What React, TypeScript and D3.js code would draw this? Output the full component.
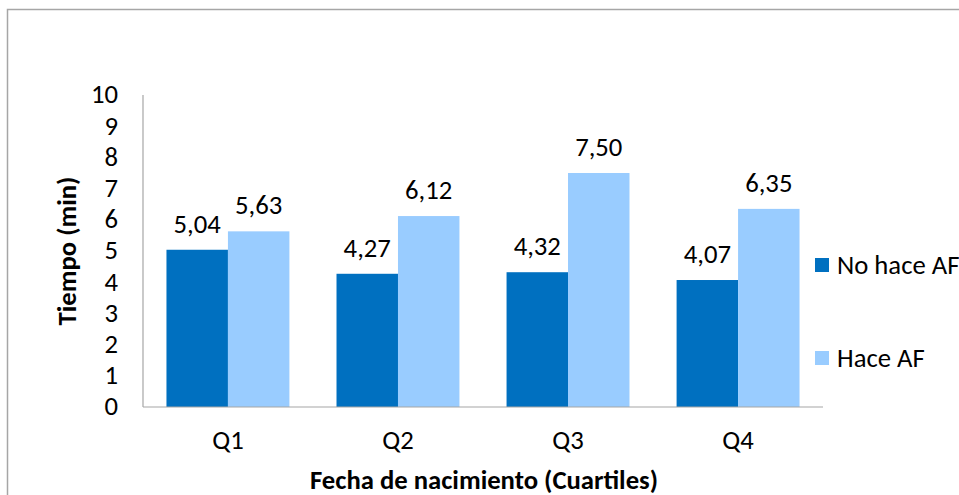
import React from "react";
import * as d3 from "d3";

const categories = ["Q1", "Q2", "Q3", "Q4"];
const seriesNames = ["No hace AF", "Hace AF"];
const noHaceAF = [5.04, 4.27, 4.32, 4.07];
const haceAF = [5.63, 6.12, 7.5, 6.35];
const yTicks = [0, 1, 2, 3, 4, 5, 6, 7, 8, 9, 10];
const colors = ["#0070C0", "#99CCFF"];

const W = 959, H = 495;
const plot = { left: 143, right: 823, top: 95, bottom: 407 };
const font = "Carlito, Calibri, 'Open Sans', sans-serif";
const fs = 26.7;

export default function App() {
  const x = d3.scaleBand<string>().domain(categories).range([plot.left, plot.right]).paddingInner(0.277).paddingOuter(0.138);
  const xs = d3.scaleBand<string>().domain(seriesNames).range([0, x.bandwidth()]);
  const y = d3.scaleLinear().domain([0, 10]).range([plot.bottom, plot.top]);
  const series = [noHaceAF, haceAF];
  const fmt = (v: number) => v.toFixed(2).replace(".", ",");
  return (
    <svg width={W} height={H} style={{ position: "absolute", left: 0, top: 0 }} fontFamily={font}>
      <rect x={0} y={0} width={W} height={H} fill="#fff" />
      <rect x={7.5} y={9.5} width={W + 10} height={H + 10} fill="none" stroke="#a6a6a6" strokeWidth={1.5} />
      {series.map((vals, si) =>
        vals.map((v, i) => (
          <rect key={`${si}-${i}`} x={x(categories[i])! + xs(seriesNames[si])!} y={y(v)} width={xs.bandwidth()} height={y(0) - y(v)} fill={colors[si]} />
        ))
      )}
      {series.map((vals, si) =>
        vals.map((v, i) => (
          <text key={`l${si}-${i}`} x={x(categories[i])! + xs(seriesNames[si])! + xs.bandwidth() / 2} y={y(v) - 17} textAnchor="middle" fontSize={fs} fill="#000">{fmt(v)}</text>
        ))
      )}
      <line x1={plot.left} x2={plot.left} y1={plot.top} y2={plot.bottom} stroke="#a6a6a6" strokeWidth={1.2} />
      <line x1={plot.left} x2={plot.right} y1={plot.bottom} y2={plot.bottom} stroke="#a6a6a6" strokeWidth={1.2} />
      {yTicks.map(t => (
        <text key={t} x={118} y={y(t) - 1} dy="0.35em" textAnchor="end" fontSize={fs} fill="#000">{t}</text>
      ))}
      {categories.map(c => (
        <text key={c} x={x(c)! + x.bandwidth() / 2} y={440} dy="0.35em" textAnchor="middle" fontSize={fs} fill="#000">{c}</text>
      ))}
      <text x={484} y={480} dy="0.35em" textAnchor="middle" fontSize={fs} fontWeight="bold" fill="#000">Fecha de nacimiento (Cuartiles)</text>
      <text transform={`translate(67,251) rotate(-90)`} dy="0.35em" textAnchor="middle" fontSize={fs} fontWeight="bold" fill="#000">Tiempo (min)</text>
      {seriesNames.map((s, i) => (
        <g key={s} transform={`translate(815,${265 + i * 93})`}>
          <rect x={0} y={-7} width={14} height={14} fill={colors[i]} />
          <text x={22} y={0} dy="0.35em" fontSize={fs} fill="#000">{s}</text>
        </g>
      ))}
    </svg>
  );
}
